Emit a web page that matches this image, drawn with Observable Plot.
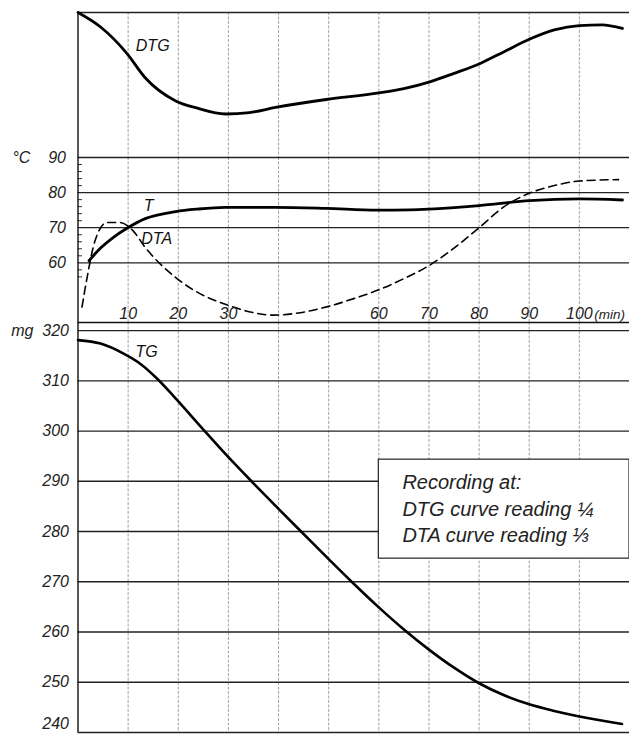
<!DOCTYPE html>
<html><head><meta charset="utf-8">
<script src="https://cdn.jsdelivr.net/npm/d3@7"></script>
<script src="https://cdn.jsdelivr.net/npm/@observablehq/plot@0.6"></script>
<style>
body{margin:0;background:#fff}
#chart{position:relative;width:629px;height:734px;overflow:hidden;background:#fff}
#chart svg{position:absolute;left:0;top:0}
</style></head><body><div id="chart"></div>
<script>
// ---- data ----
const gridTimes = [10,20,30,40,50,60,70,80,90,100];
const timeTicks = [10,20,30,60,70,80,90,100];
const tempTicks = [60,70,80,90];
const tempMinor = [56,58,62,64,66,68,72,74,76,78,82,84,86,88];
const massTicks = [250,260,270,280,290,300,310,320];
const massBottomTick = [240];

const dtgTime  = [0,4.5,9.7,13.4,19.5,23.8,29.4,34.2,39.4,49.5,60,65,70,75,80,85,90,95,100,104.5,108.6];
const dtgValue = [0,-10,-28,-45,-61,-66,-70,-69,-65.5,-60,-55.5,-52.5,-48,-42,-35.5,-27,-18.5,-12,-9,-8.5,-11];

const tTime  = [2.2,4.5,7,9.6,13.4,19.5,23.8,29.4,39.4,49.5,59.6,66.2,70,80,90,100,108.6];
const tValue = [60.6,64.2,67.2,69.7,72.6,74.6,75.3,75.8,75.8,75.5,75.0,75.1,75.3,76.3,77.7,78.2,77.9];

const dtaTime  = [0.8,1.7,3.4,5.8,8.2,11,13.4,19.5,24.6,29.4,35,38.9,44.3,50,55,60,65,70,75,80,85,90,95,100,107.8];
const dtaValue = [47.4,54.9,66.3,71.5,71.5,69.1,64.4,55.8,51.0,48.2,45.8,45.1,45.8,47.6,49.8,52.3,55.5,59.2,64.2,70.0,76.0,79.8,82.0,83.3,83.7];

const tgTime  = [0,4.5,9.1,12.4,15.8,19.1,25,30,35,40,45,50,55,60,65,70,75,80,85,90,95,100,108.5];
const tgValue = [318.1,317.4,315.4,313.4,310.4,306.9,300.3,294.8,289.6,284.5,279.5,274.5,269.6,264.9,260.5,256.5,252.9,249.8,247.4,245.6,244.3,243.2,241.7];

const curveNames = ["DTG","T","DTA","TG"];
const curveLabelTime = [14.9,14.1,15.7,13.7];
const curveLabelValue = [-22.8,76.3,66.9,315.8];

const noteLines = ["Recording at:","DTG curve reading ¼","DTA curve reading ⅓"];
const noteLineMass = [289.7,284.4,279.2];
const noteTime = 64.7;
const noteBoxTime = [60,110];
const noteBoxMass = [274.6,294.3];

// ---- layout ----
const W = 629, H = 734;
const xDomain = [0,110];
const font = {fontFamily:"Liberation Sans, Arial, sans-serif", fontSize:"16px", fontStyle:"italic", background:"transparent", overflow:"visible"};
const pts = (ts, vs) => ts.map((t,i)=>({t, v:vs[i]}));
const gridStyle = {stroke:"#8a8a8a", strokeWidth:0.8, strokeDasharray:"3,1.5"};
const base = {width:W, height:H, marginLeft:77.5, marginRight:0, x:{domain:xDomain, axis:null}, style:font};
const curve = "monotone-x";

const chart = document.getElementById("chart");

// Panel A: DTG
const pA = Plot.plot({...base, marginTop:12, marginBottom:H-157,
  y:{domain:[-100,0], axis:null},
  marks:[
    Plot.ruleX(gridTimes, gridStyle),
    Plot.ruleY([0], {stroke:"#222", strokeWidth:1.4}),
    Plot.ruleX([0], {stroke:"#111", strokeWidth:1.4}),
    Plot.line(pts(dtgTime,dtgValue), {x:"t", y:"v", curve, stroke:"#000", strokeWidth:2.8}),
    Plot.text([0], {x:curveLabelTime[0], y:curveLabelValue[0], text:()=>curveNames[0], fontSize:16, fill:"#111"})
  ]});
chart.appendChild(pA);

// Panel B: temperature + DTA
const tempDomain = [43,90];
const pB = Plot.plot({...base, marginTop:157, marginBottom:H-322,
  y:{domain:tempDomain, axis:null},
  marks:[
    Plot.ruleX(gridTimes, gridStyle),
    Plot.ruleY(tempTicks, {stroke:"#222", strokeWidth:1.3}),
    Plot.ruleY(tempMinor, {x1:0, x2:0.9, stroke:"#333", strokeWidth:1}),
    Plot.ruleX([0], {stroke:"#111", strokeWidth:1.4}),
    Plot.axisY({ticks:tempTicks, tickSize:0, tickPadding:12, anchor:"left", label:null,
      tickFormat:d => d===90 ? "°C    90" : String(d), fontSize:16, fill:"#222"}),
    Plot.line(pts(dtaTime,dtaValue), {x:"t", y:"v", curve, stroke:"#000", strokeWidth:1.6, strokeDasharray:"8,5"}),
    Plot.line(pts(tTime,tValue), {x:"t", y:"v", curve, stroke:"#000", strokeWidth:2.8}),
    Plot.text([1,2], {x:i=>curveLabelTime[i], y:i=>curveLabelValue[i], text:i=>curveNames[i], fontSize:16, fill:"#111"})
  ]});
chart.appendChild(pB);

// Panel C: TG mass
const massDomain = [240,321.6];
const pC = Plot.plot({...base, marginTop:322, marginBottom:2,
  y:{domain:massDomain, axis:null},
  marks:[
    Plot.ruleX(gridTimes, gridStyle),
    Plot.ruleY(massTicks.concat(massBottomTick), {stroke:"#222", strokeWidth:1.3}),
    Plot.ruleY([massDomain[1]], {stroke:"#111", strokeWidth:1.6}),
    Plot.ruleX([0], {stroke:"#111", strokeWidth:1.4}),
    Plot.axisY({ticks:massTicks, tickSize:0, tickPadding:9, anchor:"left", label:null,
      tickFormat:d => d===320 ? "mg  320" : String(d), fontSize:16, fill:"#222"}),
    Plot.axisY({ticks:massBottomTick, tickSize:0, tickPadding:9, anchor:"left", label:null, dy:-9, fontSize:16, fill:"#222"}),
    Plot.axisX({ticks:timeTicks, tickSize:0, tickPadding:4, anchor:"top", label:null, fontSize:16, fill:"#222"}),
    Plot.text(["(min)"], {x:100, y:massDomain[1], text:d=>d, textAnchor:"start", lineAnchor:"bottom", dx:15, dy:-4, fontSize:13.5, fill:"#222"}),
    Plot.rect([0], {x1:noteBoxTime[0], x2:noteBoxTime[1], y1:noteBoxMass[0], y2:noteBoxMass[1], fill:"white", stroke:"#222", strokeWidth:1.2}),
    Plot.text(noteLines, {x:noteTime, y:(d,i)=>noteLineMass[i], text:d=>d, textAnchor:"start", fontSize:20, fill:"#222"}),
    Plot.line(pts(tgTime,tgValue), {x:"t", y:"v", curve, stroke:"#000", strokeWidth:2.6}),
    Plot.text([3], {x:i=>curveLabelTime[i], y:i=>curveLabelValue[i], text:i=>curveNames[i], fontSize:16, fill:"#111"})
  ]});
chart.appendChild(pC);
</script></body></html>
